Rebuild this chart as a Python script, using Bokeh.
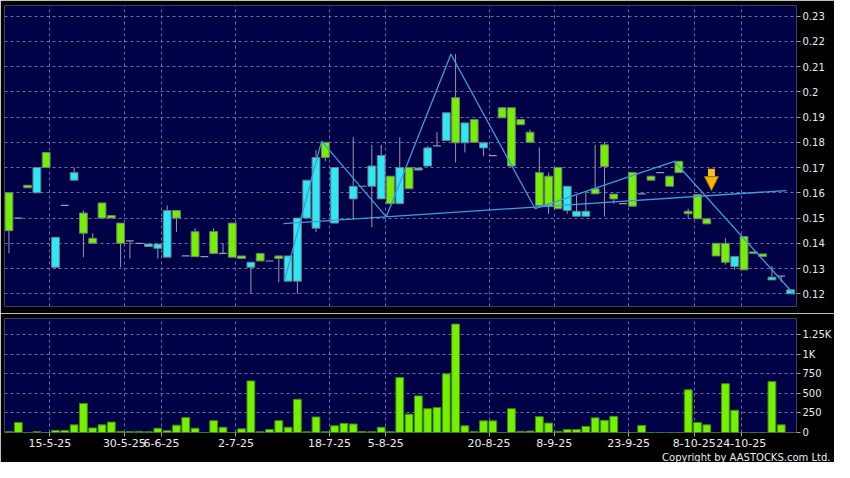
import pandas as pd
from bokeh.plotting import figure
from bokeh.layouts import column
from bokeh.models import (ColumnDataSource, FixedTicker, CustomJSTickFormatter,
                          Title, Arrow, NormalHead, Range1d)
from bokeh.embed import file_html
from bokeh.resources import INLINE

nan = float("nan")

# ---------------- data ----------------
opens = [0.160, 0.150, 0.163, 0.160, 0.176, 0.1305, 0.155, 0.165, 0.152, 0.142,
         0.156, 0.151, 0.148, 0.141, 0.140, 0.1387, 0.138, 0.1345, 0.153, 0.135,
         0.1446, 0.1347, 0.1447, 0.136, 0.148, 0.135, 0.1305, 0.136, 0.133, 0.135,
         0.125, 0.125, 0.150, 0.146, 0.180, 0.148, nan, 0.1576, 0.1626, 0.1626,
         0.1576, 0.1666, 0.1557, 0.170, 0.169, 0.1706, 0.1786, 0.1807, 0.1977, 0.1798,
         0.189, 0.1778, 0.1747, 0.1937, 0.1937, 0.189, 0.184, 0.168, 0.1666, 0.170,
         0.153, 0.1507, 0.1507, 0.1616, 0.179, 0.1595, 0.1557, 0.168, 0.1596, 0.1666,
         0.168, 0.1666, 0.1725, 0.1527, 0.1593, 0.1497, 0.140, 0.140, 0.1308, 0.1427,
         0.1366, 0.1358, 0.1255, 0.127, 0.120]
closes = [0.145, 0.150, 0.162, 0.170, 0.170, 0.1424, 0.155, 0.168, 0.144, 0.140,
          0.150, 0.150, 0.140, 0.141, 0.140, 0.1397, 0.1397, 0.153, 0.150, 0.135,
          0.1347, 0.1347, 0.136, 0.136, 0.1345, 0.134, 0.1325, 0.133, 0.133, 0.134,
          0.135, 0.150, 0.165, 0.174, 0.174, 0.170, nan, 0.1626, 0.1626, 0.1706,
          0.1748, 0.1557, 0.170, 0.1616, 0.1698, 0.1778, 0.1786, 0.1917, 0.1798, 0.1877,
          0.180, 0.1798, 0.1747, 0.1897, 0.1706, 0.187, 0.180, 0.155, 0.1547, 0.1537,
          0.1626, 0.1527, 0.1527, 0.1596, 0.1704, 0.1576, 0.1557, 0.1547, 0.1596, 0.165,
          0.168, 0.1626, 0.168, 0.1517, 0.1497, 0.1477, 0.135, 0.1325, 0.1348, 0.1295,
          0.136, 0.1348, 0.1266, 0.127, 0.1216]
highs = [0.160, 0.150, 0.163, 0.170, 0.176, 0.1424, 0.155, 0.170, 0.153, 0.144,
         0.156, 0.151, 0.148, 0.141, 0.140, 0.1397, 0.1397, 0.155, 0.153, 0.135,
         0.146, 0.1347, 0.146, 0.140, 0.148, 0.135, 0.1325, 0.136, 0.133, 0.135,
         0.135, 0.150, 0.165, 0.177, 0.180, 0.170, nan, 0.182, 0.1626, 0.179,
         0.179, 0.1666, 0.182, 0.170, 0.1698, 0.1785, 0.184, 0.1917, 0.215, 0.1877,
         0.189, 0.1798, 0.1747, 0.1937, 0.1937, 0.189, 0.185, 0.178, 0.168, 0.170,
         0.1626, 0.159, 0.1607, 0.179, 0.180, 0.1595, 0.1557, 0.168, 0.1596, 0.1666,
         0.168, 0.1666, 0.1725, 0.1537, 0.1593, 0.1497, 0.140, 0.142, 0.1348, 0.1427,
         0.1366, 0.1358, 0.131, 0.127, 0.1216]
lows = [0.136, 0.150, 0.162, 0.160, 0.170, 0.130, 0.155, 0.165, 0.1345, 0.140,
        0.150, 0.150, 0.1305, 0.134, 0.140, 0.1387, 0.134, 0.1345, 0.1444, 0.135,
        0.1347, 0.1347, 0.136, 0.136, 0.1345, 0.134, 0.120, 0.133, 0.133, 0.1246,
        0.125, 0.120, 0.150, 0.1444, 0.1725, 0.148, nan, 0.1497, 0.1626, 0.1464,
        0.1576, 0.1557, 0.1557, 0.1616, 0.169, 0.1706, 0.1786, 0.1807, 0.172, 0.176,
        0.180, 0.1745, 0.1747, 0.1897, 0.1706, 0.187, 0.180, 0.155, 0.1517, 0.1537,
        0.1517, 0.1507, 0.1507, 0.1596, 0.1506, 0.1557, 0.1557, 0.1547, 0.1596, 0.165,
        0.168, 0.1626, 0.168, 0.1497, 0.1497, 0.1477, 0.135, 0.1316, 0.1295, 0.1295,
        0.136, 0.1348, 0.1255, 0.1246, 0.120]
volumes = [10, 129, 0, 10, 0, 27, 27, 98, 372, 59,
           98, 133, 15, 12, 15, 10, 55, 23, 94, 191,
           55, 0, 152, 67, 0, 47, 661, 10, 39, 152,
           67, 426, 10, 199, 10, 86, 117, 109, 12, 10,
           67, 10, 704, 235, 469, 305, 320, 751, 1388, 86,
           12, 149, 149, 0, 305, 15, 18, 203, 121, 15,
           39, 39, 78, 188, 156, 207, 0, 0, 90, 0,
           0, 0, 0, 547, 129, 98, 0, 625, 285, 0,
           0, 0, 652, 98, 0]

tick_labels = ["15-5-25", "30-5-25", "6-6-25", "2-7-25", "18-7-25", "5-8-25",
               "20-8-25", "8-9-25", "23-9-25", "8-10-25", "24-10-25"]
tick_pos = [4.4, 12.4, 16.4, 24.4, 34.45, 40.5, 51.6, 58.6, 66.6, 73.65, 78.7]

price_ticks = [0.12, 0.13, 0.14, 0.15, 0.16, 0.17, 0.18, 0.19, 0.20, 0.21, 0.22, 0.23]
volume_ticks = [0, 250, 500, 750, 1000, 1250]

# drawn pattern lines (candle index, price)
zigzag_x = [29.6, 33.6, 40.55, 47.5, 56.55, 71.5, 84.4]
zigzag_y = [0.125, 0.1805, 0.1505, 0.2149, 0.1537, 0.1725, 0.1197]
neck_x = [29.5, 83.55]
neck_y = [0.1478, 0.1609]
arrow_x = 75.5
arrow_top = 0.1695
arrow_tip = 0.1609

# ---------------- styling ----------------
NAVY = "#000046"
GREEN = "#74f000"
CYAN = "#2ee8f8"
EDGE = "#6f7a7c"
WICK = "#9a9aa8"
GRID = "#6c6cab"
TXT = "#ececec"
LINE = "#3c9ddc"

df = pd.DataFrame(dict(x=list(range(len(opens))), o=opens, h=highs, l=lows, c=closes))
df = df.dropna()
df["top"] = df[["o", "c"]].max(axis=1)
df["bot"] = df[["o", "c"]].min(axis=1)
df["x0"] = df["x"] - 0.42
df["x1"] = df["x"] + 0.42
up = ColumnDataSource(df[df.c > df.o])
down = ColumnDataSource(df[df.c < df.o])
doji = ColumnDataSource(df[df.c == df.o])
wick = ColumnDataSource(df[df.h > df.l])

xr = Range1d(-0.48, 84.64)


def style(p):
    p.background_fill_color = NAVY
    p.border_fill_color = "black"
    p.outline_line_color = None
    for g in p.grid:
        g.grid_line_color = GRID
        g.grid_line_dash = "3 3"
        g.grid_line_width = 1
    for ax in p.axis:
        ax.axis_line_color = None
        ax.major_tick_line_color = "#a0a0a0"
        ax.major_tick_out = 4
        ax.major_tick_in = 0
        ax.minor_tick_line_color = None
        ax.major_label_text_color = TXT
        ax.major_label_text_font = "DejaVu Sans"
        ax.major_label_standoff = 2


# ---- price panel ----
p1 = figure(width=834, height=313, x_range=xr, y_range=Range1d(0.11497, 0.2342),
            y_axis_location="right", x_axis_location=None,
            toolbar_location=None, output_backend="svg",
            min_border_left=4, min_border_right=36, min_border_top=5, min_border_bottom=7)
p1.yaxis.ticker = FixedTicker(ticks=price_ticks)
p1.yaxis.formatter = CustomJSTickFormatter(code="return (Math.round(tick*100)/100).toString();")
p1.yaxis.major_label_text_font_size = "10px"
p1.xgrid.ticker = FixedTicker(ticks=tick_pos)
style(p1)

p1.segment(x0="x", y0="h", x1="x", y1="l", source=wick, line_color=WICK, line_width=1)
p1.vbar(x="x", width=0.84, top="top", bottom="bot", source=up,
        fill_color=CYAN, line_color=EDGE, line_width=1)
p1.vbar(x="x", width=0.84, top="top", bottom="bot", source=down,
        fill_color=GREEN, line_color=EDGE, line_width=1)
p1.segment(x0="x0", y0="c", x1="x1", y1="c", source=doji, line_color=WICK, line_width=1.2)

p1.line(zigzag_x, zigzag_y, line_color=LINE, line_width=1.3)
p1.line(neck_x, neck_y, line_color=LINE, line_width=1.3)

neck = arrow_tip + 0.0040
p1.segment(x0=[arrow_x], y0=[arrow_top], x1=[arrow_x], y1=[neck],
           line_color="#f2c21a", line_width=7)
p1.add_layout(Arrow(end=NormalHead(size=14, fill_color="#f5b400", line_color="#a87000", line_width=1),
                    x_start=arrow_x, y_start=neck + 0.002, x_end=arrow_x, y_end=arrow_tip,
                    line_alpha=0))

# ---- volume panel ----
p2 = figure(width=834, height=149, x_range=xr, y_range=Range1d(0, 1460),
            y_axis_location="right", toolbar_location=None, output_backend="svg",
            min_border_left=4, min_border_right=36, min_border_top=5, min_border_bottom=0)
p2.yaxis.ticker = FixedTicker(ticks=volume_ticks)
p2.yaxis.formatter = CustomJSTickFormatter(
    code="if (tick >= 1000) { return (tick/1000) + 'K'; } return tick.toString();")
p2.yaxis.major_label_text_font_size = "10px"
p2.xaxis.ticker = FixedTicker(ticks=tick_pos)
p2.xaxis.major_label_overrides = {t: s for t, s in zip(tick_pos, tick_labels)}
p2.xaxis.major_label_text_font_size = "11px"
p2.xaxis.major_tick_out = 3
style(p2)

vsrc = ColumnDataSource(dict(x=list(range(len(volumes))), v=volumes))
p2.vbar(x="x", width=0.84, top="v", bottom=0, source=vsrc,
        fill_color=GREEN, line_color="#3f8a10", line_width=1)

p2.add_layout(Title(text="Copyright by AASTOCKS.com Ltd.", align="right", text_color=TXT,
                    text_font="DejaVu Sans", text_font_size="10px", text_font_style="normal",
                    standoff=0, offset=-34), "below")

layout = column(p1, p2, spacing=0)
open("out.html", "w").write(file_html(layout, INLINE))
